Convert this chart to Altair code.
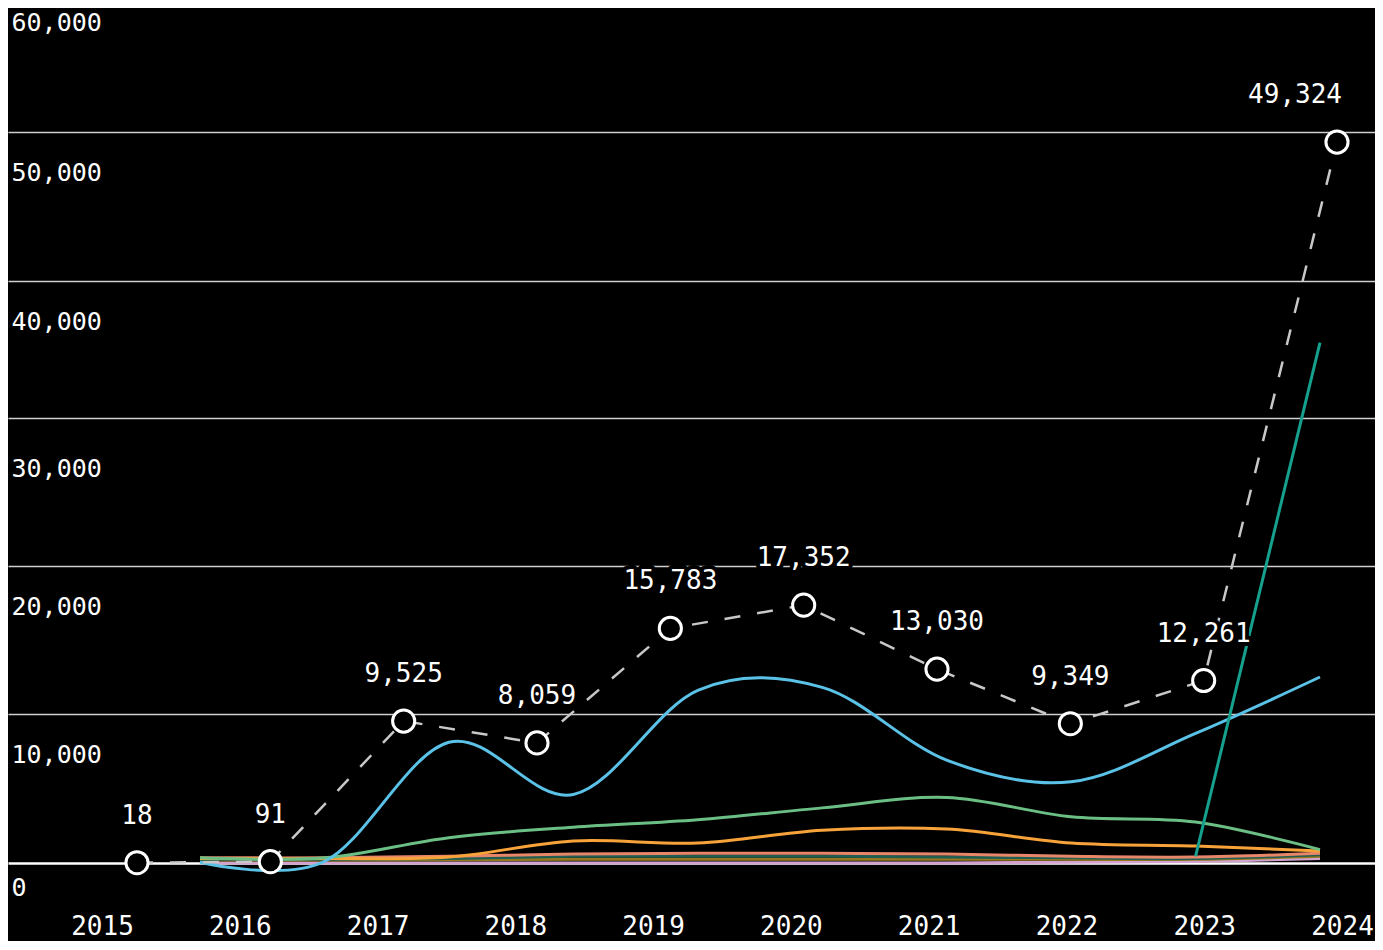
import altair as alt
import pandas as pd

# ---------------- data ----------------
years = [2015, 2016, 2017, 2018, 2019, 2020, 2021, 2022, 2023, 2024]
total = [18, 91, 9525, 8059, 15783, 17352, 13030, 9349, 12261, 49324]

series_names = ["Series A", "Series B", "Series C", "Series D", "Series E", "Series F", "Series G", "Series H"]
series_colors = ["#D3A3CF", "#98781F", "#1F5E50", "#E8866A", "#F8A33A", "#6BBF85", "#5BC2E7", "#16A08E"]

s_pink = [0, 0, 0, 0, 0, 0, 0, 50, 100, 300]
s_olive = [200, 200, 220, 250, 250, 250, 250, 250, 250, 450]
s_darkgreen = [250, 250, 300, 450, 450, 450, 400, 350, 300, 550]
s_salmon = [350, 350, 450, 600, 650, 650, 600, 450, 400, 650]
s_orange = [300, 300, 400, 1480, 1340, 2200, 2280, 1340, 1140, 800]
s_green = [350, 350, 1700, 2400, 2900, 3700, 4400, 3100, 2750, 900]
s_blue = [50, 100, 8100, 4600, 11600, 11800, 6900, 5450, 8700, 12500]
teal_years = [2023, 2024]
s_teal = [450, 35500]

y_ticks = [0, 10000, 20000, 30000, 40000, 50000, 60000]

# ---------------- tables ----------------
rows = []
for name, vals in zip(series_names[:7], [s_pink, s_olive, s_darkgreen, s_salmon, s_orange, s_green, s_blue]):
    for yr, v in zip(years, vals):
        rows.append({"year": yr, "value": v, "series": name})
for yr, v in zip(teal_years, s_teal):
    rows.append({"year": yr, "value": v, "series": series_names[7]})
lines_df = pd.DataFrame(rows)

total_df = pd.DataFrame({"year": years, "total": total})
axis_df = pd.DataFrame({"year": years, "zero": [0] * len(years)})

FONT = "DejaVu Sans Mono"
W, H = 1367, 855

yscale = alt.Scale(domain=y_ticks, range=[855, 706, 558, 410, 273, 124, -26], nice=False, zero=False)
yaxis = alt.Axis(
    values=y_ticks, format=",d", orient="left", title=None,
    labelAlign="left", labelBaseline="middle", labelPadding=-3,
    labelOffset={"condition": [{"test": "datum.value == 0", "value": 24},
                               {"test": "datum.value == 30000", "value": 50}], "value": 40},
    labelFont=FONT, labelFontSize=25, labelColor="#ffffff",
    labelBound=False, labelFlush=False, labelOverlap=False,
    ticks=False, tickSize=0, domain=False, grid=True,
    gridColor={"condition": {"test": "datum.value == 0", "value": "#ffffff"}, "value": "#cfcfcf"},
    gridWidth={"condition": {"test": "datum.value == 0", "value": 2.5}, "value": 1.3},
)
xaxis = alt.Axis(
    values=years, format="d", title=None, labelFont=FONT, labelFontSize=26, labelColor="#ffffff",
    labelBaseline="middle", labelPadding=63, ticks=False, tickSize=0, domain=False, grid=False,
    labelFlush=False, labelOverlap=False, labelBound=False,
)

# axis scale spans the full plot width so grid lines run edge to edge;
# 2015 sits 94 px and 2024 sits 1334 px from the left edge
px_per_year = (1334 - 94) / 9.0
x_axis_scale = alt.Scale(domain=[2015 - 94 / px_per_year, 2024 + (W - 1334) / px_per_year],
                         range=[0, W], nice=False, zero=False)
x_line_scale = alt.Scale(domain=[2015, 2024], range=[192, 1312], nice=False, zero=False)
x_total_scale = alt.Scale(domain=[2015, 2024], range=[129, 1329], nice=False, zero=False)

axis_layer = alt.Chart(axis_df).mark_point(opacity=0).encode(
    x=alt.X("year:Q", scale=x_axis_scale, axis=xaxis),
    y=alt.Y("zero:Q", scale=yscale, axis=yaxis),
)

lines = alt.Chart(lines_df).mark_line(interpolate="cardinal", strokeWidth=3).encode(
    x=alt.X("year:Q", scale=x_line_scale, axis=None),
    y=alt.Y("value:Q", scale=yscale, axis=yaxis),
    color=alt.Color("series:N", scale=alt.Scale(domain=series_names, range=series_colors), legend=None),
)

total_line = alt.Chart(total_df).mark_line(color="#c8c8c8", strokeWidth=2.5, strokeDash=[16, 17]).encode(
    x=alt.X("year:Q", scale=x_total_scale, axis=None),
    y=alt.Y("total:Q", scale=yscale, axis=yaxis),
)

points = alt.Chart(total_df).mark_point(
    shape="circle", filled=True, fill="#000000", stroke="#ffffff", strokeWidth=3, size=490, opacity=1
).encode(
    x=alt.X("year:Q", scale=x_total_scale, axis=None),
    y=alt.Y("total:Q", scale=yscale, axis=yaxis),
)

def label_layer(filt, align, dx, halo):
    props = dict(font=FONT, fontSize=26, align=align, baseline="middle", dy=-47, dx=dx)
    if halo:
        props.update(stroke="#000000", strokeWidth=8, fill="#000000", strokeJoin="round")
    else:
        props.update(fill="#ffffff")
    return alt.Chart(total_df).transform_filter(filt).mark_text(**props).encode(
        x=alt.X("year:Q", scale=x_total_scale, axis=None),
        y=alt.Y("total:Q", scale=yscale, axis=yaxis),
        text=alt.Text("total:Q", format=","),
    )

layers = [
    axis_layer, lines, total_line, points,
    label_layer("datum.year < 2024", "center", 0, True),
    label_layer("datum.year == 2024", "right", 5, True),
    label_layer("datum.year < 2024", "center", 0, False),
    label_layer("datum.year == 2024", "right", 5, False),
]

chart = alt.layer(*layers).resolve_scale(x="independent").properties(
    width=W, height=H,
    autosize=alt.AutoSizeParams(type="none"),
    padding={"left": 0, "top": 0, "right": 0, "bottom": 78},
    background="#000000",
).configure_view(stroke=None)

chart.save("out.html", embed_options={"renderer": "svg", "actions": False})
